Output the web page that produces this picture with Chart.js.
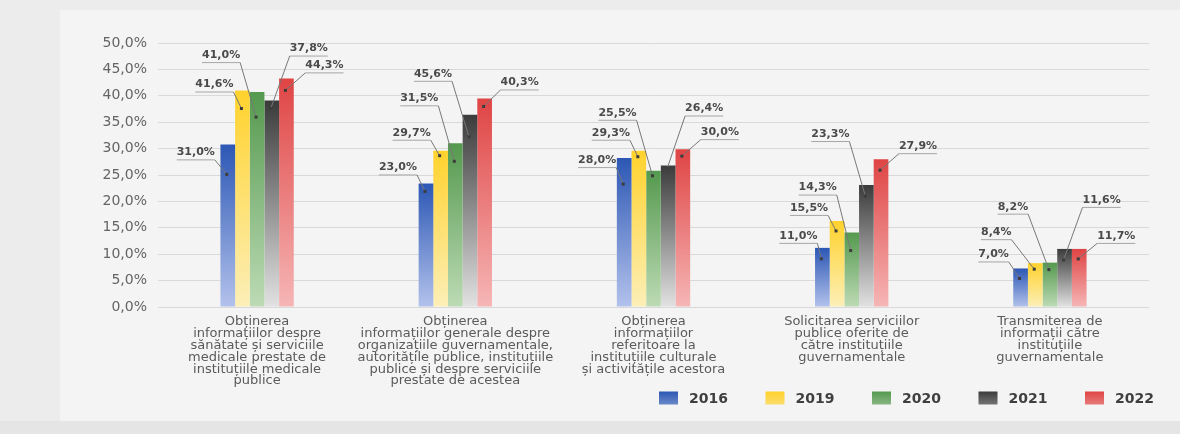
<!DOCTYPE html>
<html>
<head>
<meta charset="utf-8">
<script src="https://cdn.jsdelivr.net/npm/chart.js@4.4.1/dist/chart.umd.min.js"></script>
<style>
    html, body { margin: 0; padding: 0; background: #ececec; }
    #wrap { position: relative; width: 1180px; height: 434px; overflow: hidden; }
    #panel { position: absolute; left: 60px; top: 10px; width: 1120px; height: 411px; background: #f4f4f4; }
    #band { position: absolute; left: 0; top: 421px; width: 1180px; height: 13px; background: #e5e5e5; }
    canvas { position: absolute; left: 0; top: 0; }
</style>
</head>
<body>
<div id="wrap">
    <div id="panel"></div>
    <div id="band"></div>
    <canvas id="Chart" width="1180" height="434"></canvas>
</div>
<script>
const years = ['2016', '2019', '2020', '2021', '2022'];

const categories = [
    ['Obținerea', 'informațiilor despre', 'sănătate și serviciile', 'medicale prestate de', 'instituțiile medicale', 'publice'],
    ['Obținerea', 'informațiilor generale despre', 'organizațiile guvernamentale,', 'autoritățile publice, instituțiile', 'publice și despre serviciile', 'prestate de acestea'],
    ['Obținerea', 'informațiilor', 'referitoare la', 'instituțiile culturale', 'și activitățile acestora'],
    ['Solicitarea serviciilor', 'publice oferite de', 'către instituțiile', 'guvernamentale'],
    ['Transmiterea de', 'informații către', 'instituțiile', 'guvernamentale']
];

// bar heights as drawn in the picture
const values2016 = [30.8, 23.4, 28.2, 11.2, 7.3];
const values2019 = [41.0, 29.6, 29.6, 16.3, 8.3];
const values2020 = [40.7, 31.0, 25.8, 14.1, 8.4];
const values2021 = [39.1, 36.4, 26.8, 23.1, 11.0];
const values2022 = [43.3, 39.5, 29.9, 28.0, 11.0];

// the printed value labels (as written on the chart)
const labels2016 = ['31,0%', '23,0%', '28,0%', '11,0%', '7,0%'];
const labels2019 = ['41,6%', '29,7%', '29,3%', '15,5%', '8,4%'];
const labels2020 = ['41,0%', '31,5%', '25,5%', '14,3%', '8,2%'];
const labels2021 = ['37,8%', '45,6%', '26,4%', '23,3%', '11,6%'];
const labels2022 = ['44,3%', '40,3%', '30,0%', '27,9%', '11,7%'];

const yTickLabels = ['0,0%', '5,0%', '10,0%', '15,0%', '20,0%', '25,0%', '30,0%', '35,0%', '40,0%', '45,0%', '50,0%'];

const allValues = [values2016, values2019, values2020, values2021, values2022];
const allLabels = [labels2016, labels2019, labels2020, labels2021, labels2022];

// top / bottom colour of each series gradient
const seriesColors = [
    ['#2c57b4', '#b3c2ec'],
    ['#ffd22c', '#fcefb8'],
    ['#55994f', '#bddbb5'],
    ['#3b3b3b', '#e2e2e2'],
    ['#df4444', '#f6b6b6']
];

// label offset from the bar top [dx, dy, dot depth]
const labelPlacement = [
    [[-32, 8, 30], [-28, -16, 8], [-27, 2, 26], [-24, -12, 11], [-27, -14, 10]],
    [[-28, -6, 18], [-29, -18, 5], [-28, -18, 6], [-28, -13, 10], [-39, -31, 6]],
    [[-36, -37, 25], [-36, -45, 18], [-36, -58, 5], [-34, -45, 18], [-37, -56, 7]],
    [[37, -52, 8], [-37, -41, 22], [36, -57, 3], [-36, -51, 11], [37, -49, 11]],
    [[38, -13, 12], [35, -16, 8], [37, -17, 7], [37, -13, 11], [37, -13, 10]]
];

function barFill(ctx) {
    let pair = seriesColors[ctx.datasetIndex];
    let chart = ctx.chart;
    let y = chart.scales ? chart.scales.y : null;
    if (!chart.chartArea || !y || ctx.raw === undefined) {
        return pair[0];
    }
    let top = y.getPixelForValue(ctx.raw);
    let bottom = y.getPixelForValue(0);
    let g = chart.ctx.createLinearGradient(0, top, 0, bottom);
    g.addColorStop(0, pair[0]);
    g.addColorStop(1, pair[1]);
    return g;
}

const leaderLabels = {
    id: 'leaderLabels',
    afterDatasetsDraw(chart) {
        let c = chart.ctx;
        c.save();
        c.font = 'bold 11px "DejaVu Sans"';
        c.textAlign = 'center';
        c.textBaseline = 'middle';
        chart.data.datasets.forEach(function (ds, i) {
            chart.getDatasetMeta(i).data.forEach(function (bar, j) {
                let place = labelPlacement[i][j];
                let text = allLabels[i][j];
                let w = c.measureText(text).width;
                let tx = bar.x + place[0];
                let ty = bar.y + place[1];
                let uy = ty + 7.5;
                let px = bar.x - 1;
                let py = bar.y + place[2];
                let ex = place[0] < 0 ? tx + w / 2 : tx - w / 2;

                c.lineWidth = 1;
                c.strokeStyle = '#a6a6a6';
                c.beginPath();
                c.moveTo(tx - w / 2, uy);
                c.lineTo(tx + w / 2, uy);
                c.stroke();

                c.strokeStyle = '#777777';
                c.beginPath();
                c.moveTo(ex, uy);
                c.lineTo(px, py);
                c.stroke();

                c.fillStyle = '#3c3c3c';
                c.fillRect(px - 1.5, py - 1.5, 3, 3);

                c.fillStyle = '#4a4a4a';
                c.fillText(text, tx, ty);
            });
        });
        c.restore();
    }
};

const bottomLegend = {
    id: 'bottomLegend',
    afterDraw(chart) {
        let c = chart.ctx;
        let right = chart.chartArea.right;
        let cy = chart.chartArea.bottom + 91;
        let n = chart.data.datasets.length;
        c.save();
        c.font = 'bold 14px "DejaVu Sans"';
        c.textAlign = 'left';
        c.textBaseline = 'middle';
        chart.data.datasets.forEach(function (ds, k) {
            let bx = right - 64 - (n - 1 - k) * 106.5;
            let pair = seriesColors[k];
            let g = c.createLinearGradient(0, cy - 6.5, 0, cy + 6.5);
            g.addColorStop(0, pair[0]);
            g.addColorStop(1, pair[0] + 'b0');
            c.fillStyle = g;
            c.fillRect(bx, cy - 6.5, 19, 13);
            c.fillStyle = '#3f3f3f';
            c.fillText(ds.label, bx + 30, cy + 1);
        });
        c.restore();
    }
};

let datasets = [];
for (let i = 0; i < years.length; i++) {
    datasets.push({
        label: years[i],
        data: allValues[i],
        backgroundColor: barFill,
        borderWidth: 0,
        categoryPercentage: 0.37,
        barPercentage: 1.0
    });
}

let chart = new Chart(document.getElementById('Chart'), {
    type: 'bar',
    data: {
        labels: categories,
        datasets: datasets
    },
    options: {
        responsive: false,
        animation: false,
        layout: { padding: { top: 43, right: 31, bottom: 0, left: 0 } },
        plugins: {
            legend: { display: false },
            tooltip: { enabled: false }
        },
        scales: {
            x: {
                grid: { display: false, drawTicks: false },
                border: { display: false },
                ticks: {
                    color: '#5a5a5a',
                    font: { family: 'DejaVu Sans', size: 13, lineHeight: 0.91 },
                    padding: 9,
                    maxRotation: 0,
                    autoSkip: false
                },
                afterFit: function (axis) { axis.height = 127; }
            },
            y: {
                min: 0,
                max: 50,
                ticks: {
                    stepSize: 5,
                    padding: 11,
                    color: '#646464',
                    font: { family: 'DejaVu Sans', size: 14 },
                    callback: function (v, i) { return yTickLabels[i]; }
                },
                grid: { color: '#d9d9d9', drawTicks: false },
                border: { display: false },
                afterFit: function (axis) { axis.width = 158; }
            }
        }
    },
    plugins: [leaderLabels, bottomLegend]
});
</script>
</body>
</html>
